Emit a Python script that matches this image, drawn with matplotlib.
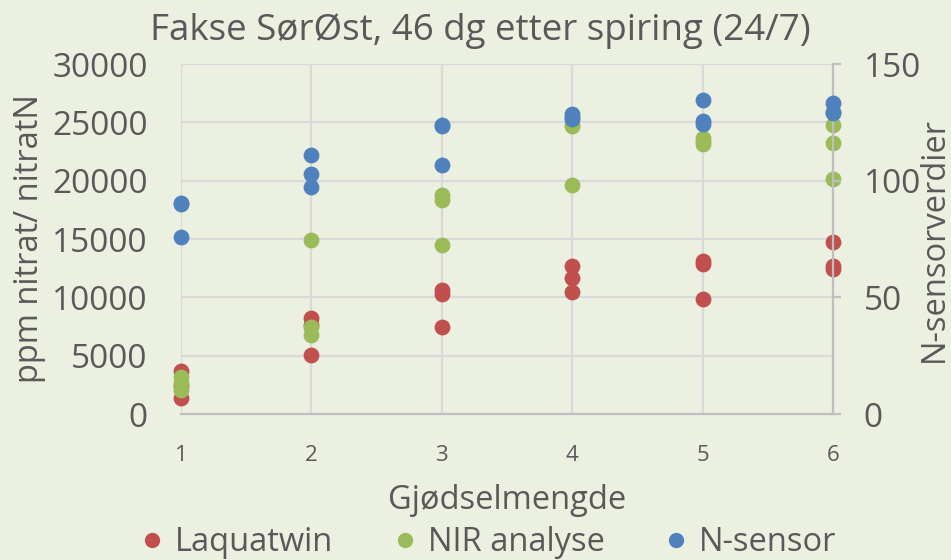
import matplotlib
matplotlib.use("Agg")
import matplotlib.pyplot as plt
from matplotlib.lines import Line2D

# Fertiliser level (Gjødselmengde) for each measurement
gjodsel = [1, 1, 1, 2, 2, 2, 3, 3, 3, 4, 4, 4, 5, 5, 5, 6, 6, 6]

# Nitrate measured with the Laquatwin meter (ppm)
laquatwin = [3700, 2400, 1400, 8200, 7600, 5100, 10600, 10300, 7450,
             12700, 11700, 10500, 13150, 12850, 9900, 14750, 12700, 12450]

# Nitrate from the NIR analysis (ppm)
nir_analyse = [3200, 2700, 2100, 14950, 7450, 6750, 18800, 18350, 14450,
               24800, 24700, 19650, 23650, 23400, 23150, 24800, 23200, 20150]

# N-sensor readings (secondary axis)
n_sensor = [90.6, 89.8, 75.9, 111.2, 102.7, 97.2, 123.7, 123.4, 106.8,
            128.4, 127.2, 126.3, 134.5, 125.6, 124.1, 133.1, 129.5, 128.8]

x_ticks = [1, 2, 3, 4, 5, 6]
left_ticks = [0, 5000, 10000, 15000, 20000, 25000, 30000]
right_ticks = [0, 50, 100, 150]

title = "Fakse SørØst, 46 dg etter spiring (24/7)"
series_names = ["Laquatwin", "NIR analyse", "N-sensor"]
colors = ["#C0504D", "#9BBB59", "#4F81BD"]

bg = "#EBF0E0"
text_col = "#595959"
grid_col = "#D9D9D9"
axis_col = "#BFBFBF"

plt.rcParams["font.family"] = ["Open Sans", "DejaVu Sans"]

fig = plt.figure(figsize=(9.51, 5.60), dpi=100, facecolor=bg)
ax = fig.add_axes([0.1903, 0.2607, 0.6856, 0.625])
ax.set_facecolor(bg)
ax2 = ax.twinx()

ms = 130
ax.scatter(gjodsel, laquatwin, s=ms, color=colors[0], zorder=3,
           linewidths=0, clip_on=False)
ax.scatter(gjodsel, nir_analyse, s=ms, color=colors[1], zorder=4,
           linewidths=0, clip_on=False)
ax2.scatter(gjodsel, n_sensor, s=ms, color=colors[2], zorder=5,
            linewidths=0, clip_on=False)

ax.set_xlim(1, 6)
ax.set_ylim(0, 30000)
ax2.set_ylim(0, 150)
ax.set_xticks(x_ticks)
ax.set_yticks(left_ticks)
ax2.set_yticks(right_ticks)

ax.grid(True, color=grid_col, linewidth=1.6, zorder=0)
ax.set_axisbelow(True)

for sp in ["top", "right", "left"]:
    ax.spines[sp].set_visible(False)
for sp in ["top", "left", "bottom"]:
    ax2.spines[sp].set_visible(False)
ax.spines["bottom"].set_color(axis_col)
ax.spines["bottom"].set_linewidth(1.6)
ax2.spines["right"].set_color(axis_col)
ax2.spines["right"].set_linewidth(1.6)

ax.tick_params(axis="x", length=0, labelsize=16, labelcolor=text_col, pad=22)
ax.tick_params(axis="y", length=0, labelsize=24, labelcolor=text_col, pad=24)
ax2.tick_params(axis="y", length=6, width=1.6, color=axis_col,
                labelsize=24, labelcolor=text_col, pad=16)

ax.set_xlabel("Gjødselmengde", fontsize=23.5, color=text_col, labelpad=13)
ax.set_ylabel("ppm nitrat/ nitratN", fontsize=23.5, color=text_col, labelpad=4)
ax2.set_ylabel("N-sensorverdier", fontsize=23.5, color=text_col, labelpad=-2)

fig.text(0.505, 0.944, title, ha="center", va="center", fontsize=26.5,
         color=text_col)

handles = [Line2D([], [], linestyle="none", marker="o", markersize=11,
                  markerfacecolor=c, markeredgewidth=0) for c in colors]
fig.legend(handles, series_names, loc="center", bbox_to_anchor=(0.512, 0.031),
           ncol=3, frameon=False, fontsize=23.5, labelcolor=text_col,
           handletextpad=0.25, columnspacing=1.75, handlelength=0.9)

fig.savefig("out.png", dpi=100, facecolor=bg)
